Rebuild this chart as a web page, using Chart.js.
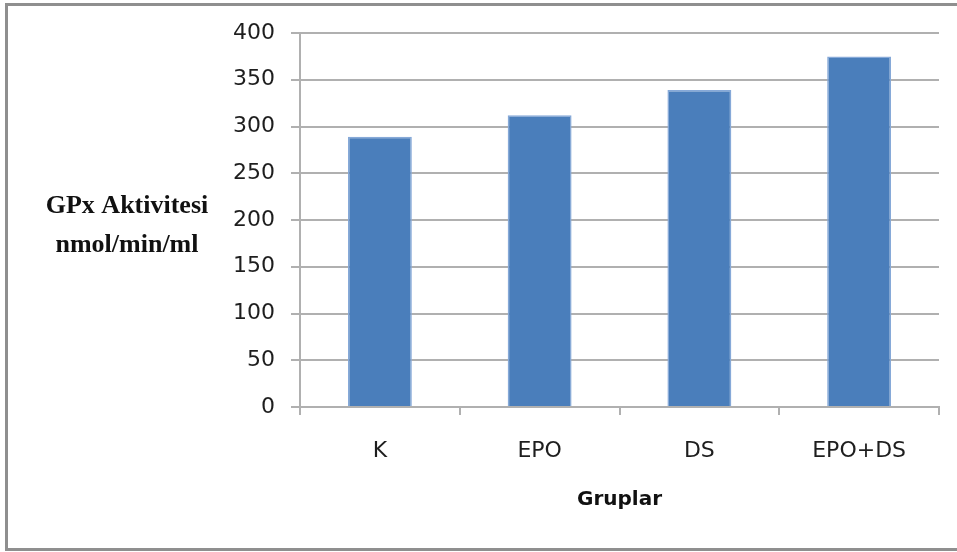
<!DOCTYPE html>
<html>
<head>
<meta charset="utf-8">
<script src="https://cdn.jsdelivr.net/npm/chart.js@4/dist/chart.umd.min.js"></script>
<style>
  html, body { margin: 0; padding: 0; background: #ffffff; }
  #wrap { width: 957px; height: 552px; position: relative; }
</style>
</head>
<body>
<div id="wrap"><canvas id="chart" width="957" height="552"></canvas></div>
<script>
// Groups and their mean GPx activity
const groups = ['K', 'EPO', 'DS', 'EPO+DS'];
const gpxActivity = [289, 312, 339, 375];
const yTitleLines = ['GPx Aktivitesi', 'nmol/min/ml'];
const xTitle = 'Gruplar';

// Outer frame and the horizontal two-line value-axis caption
const decorations = {
  id: 'decorations',
  beforeDraw(chart) {
    const ctx = chart.ctx;
    ctx.save();
    ctx.fillStyle = '#ffffff';
    ctx.fillRect(0, 0, chart.width, chart.height);
    ctx.strokeStyle = '#8f8f8f';
    ctx.lineWidth = 3;
    ctx.beginPath();
    ctx.moveTo(chart.width + 5, 4.5);
    ctx.lineTo(6.5, 4.5);
    ctx.lineTo(6.5, 549.5);
    ctx.lineTo(chart.width + 5, 549.5);
    ctx.stroke();
    ctx.restore();
  },
  afterDraw(chart) {
    const ctx = chart.ctx;
    ctx.save();
    ctx.fillStyle = '#111111';
    ctx.font = 'bold 26px "Liberation Serif", "Times New Roman", serif';
    ctx.textAlign = 'center';
    ctx.textBaseline = 'alphabetic';
    ctx.fillText(yTitleLines[0], 127, 213);
    ctx.fillText(yTitleLines[1], 127, 252);
    ctx.restore();
  }
};

new Chart(document.getElementById('chart'), {
  type: 'bar',
  data: {
    labels: groups,
    datasets: [{
      data: gpxActivity,
      backgroundColor: '#4a7ebb',
      borderColor: '#86a9d8',
      borderWidth: 1.5,
      barPercentage: 0.4,
      categoryPercentage: 1.0
    }]
  },
  options: {
    responsive: false,
    animation: false,
    devicePixelRatio: 1,
    layout: { padding: { left: 0, right: 18, top: 33, bottom: 0 } },
    plugins: {
      legend: { display: false },
      tooltip: { enabled: false }
    },
    scales: {
      x: {
        afterFit(scale) { scale.height = 145; },
        grid: {
          offset: true,
          drawOnChartArea: false,
          drawTicks: true,
          tickLength: 8,
          color: '#b0b0b0',
          lineWidth: 2
        },
        border: { color: '#b0b0b0', width: 2 },
        ticks: {
          color: '#1e1e1e',
          font: { family: '"DejaVu Sans", sans-serif', size: 22 },
          padding: 23
        },
        title: {
          display: true,
          text: xTitle,
          color: '#111111',
          font: { family: '"DejaVu Sans", sans-serif', size: 20, weight: 'bold' },
          padding: { top: 0, bottom: 40 }
        }
      },
      y: {
        min: 0,
        max: 400,
        afterFit(scale) { scale.width = 300; },
        grid: {
          color: '#b0b0b0',
          lineWidth: 2,
          drawTicks: true,
          tickLength: 9
        },
        border: { color: '#b0b0b0', width: 2 },
        ticks: {
          stepSize: 50,
          color: '#1e1e1e',
          font: { family: '"DejaVu Sans", sans-serif', size: 22 },
          padding: 16
        }
      }
    }
  },
  plugins: [decorations]
});
</script>
</body>
</html>
